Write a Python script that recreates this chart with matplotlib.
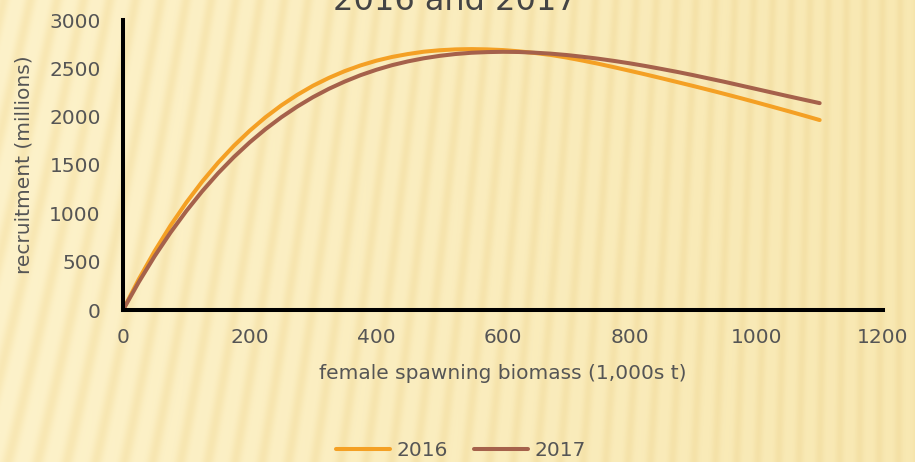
import numpy as np
import matplotlib
matplotlib.use("Agg")
import matplotlib.pyplot as plt

# ---- data ----
biomass = [0, 25, 50, 75, 100, 125, 150, 175, 200, 225, 250, 275, 300, 325,
           350, 375, 400, 425, 450, 475, 500, 525, 550, 575, 600, 625, 650,
           675, 700, 725, 750, 775, 800, 825, 850, 875, 900, 925, 950, 975,
           1000, 1025, 1050, 1075, 1100]
rec_2016 = [0, 319, 609, 873, 1112, 1328, 1523, 1698, 1854, 1994, 2117, 2225,
            2320, 2401, 2471, 2530, 2579, 2618, 2648, 2672, 2687, 2696, 2699,
            2696, 2689, 2676, 2659, 2639, 2612, 2581, 2548, 2512, 2475, 2437,
            2398, 2358, 2318, 2277, 2235, 2192, 2148, 2103, 2058, 2012, 1965]
rec_2017 = [0, 290, 557, 801, 1024, 1228, 1414, 1582, 1734, 1871, 1994, 2104,
            2202, 2288, 2363, 2429, 2485, 2533, 2572, 2604, 2629, 2648, 2661,
            2668, 2671, 2669, 2662, 2652, 2638, 2620, 2600, 2577, 2552, 2524,
            2494, 2463, 2430, 2395, 2360, 2323, 2286, 2249, 2212, 2176, 2140]
series_names = ["2016", "2017"]
x_ticks = [0, 200, 400, 600, 800, 1000, 1200]
y_ticks = [0, 500, 1000, 1500, 2000, 2500, 3000]
title_text = "2016 and 2017"
x_label = "female spawning biomass (1,000s t)"
y_label = "recruitment (millions)"

C2016 = "#F4A024"
C2017 = "#A5614B"
TXT = "#555555"

plt.rcParams['font.family'] = ['DejaVu Sans']

W, H = 915, 462
fig = plt.figure(figsize=(W / 100, H / 100), dpi=100)

# ---- striped yellow background (decoration) ----
bg = fig.add_axes([0, 0, 1, 1], zorder=-10)
xx, yy = np.meshgrid(np.arange(W, dtype=float), np.arange(H, dtype=float))
t = xx / W
left = np.array([253, 242, 202]) / 255.0
right = np.array([248, 232, 178]) / 255.0
base = left[None, None, :] * (1 - t[..., None]) + right[None, None, :] * t[..., None]
k = 0.25 * (1 - t)
period = 30 - 6 * t
phase = (xx - k * (H - yy)) / period * 2 * np.pi
stripe = 0.5 + 0.5 * np.sin(phase)
amp_l = np.array([-0.018, -0.04, -0.085])
amp_r = np.array([-0.016, -0.03, -0.05])
amp = amp_l[None, None, :] * (1 - t[..., None]) + amp_r[None, None, :] * t[..., None]
img = np.clip(base + (stripe ** 2)[..., None] * amp, 0, 1)
bg.imshow(img, aspect='auto', extent=[0, W, H, 0])
bg.set_axis_off()

# ---- main axes ----
ax = fig.add_axes([123 / W, 1 - 310 / H, (883 - 123) / W, (310 - 20) / H])
ax.patch.set_alpha(0)
ax.plot(biomass, rec_2016, color=C2016, lw=2.9, label=series_names[0],
        solid_capstyle='round', clip_on=False, zorder=3)
ax.plot(biomass, rec_2017, color=C2017, lw=2.9, label=series_names[1],
        solid_capstyle='round', clip_on=False, zorder=3)

ax.set_xlim(0, 1200)
ax.set_ylim(0, 3000)
ax.set_xticks(x_ticks)
ax.set_yticks(y_ticks)
for s in ['top', 'right']:
    ax.spines[s].set_visible(False)
for s in ['left', 'bottom']:
    ax.spines[s].set_linewidth(2.9)
    ax.spines[s].set_color('black')
    ax.spines[s].set_zorder(4)
ax.tick_params(axis='both', length=0, labelsize=14.5, labelcolor=TXT)
ax.tick_params(axis='y', pad=16)
ax.tick_params(axis='x', pad=13)
ax.set_xlabel(x_label, fontsize=14.5, color=TXT, labelpad=12)
ax.set_ylabel(y_label, fontsize=14.5, color=TXT, labelpad=11)

fig.text(455 / W, 1 - 10 / H, title_text, ha='center', va='baseline',
         fontsize=23, color="#444444")

leg = fig.legend(loc='center', bbox_to_anchor=(461 / W, 1 - 451 / H), ncol=2,
                 frameon=False, fontsize=14.5, handlelength=2.7, handletextpad=0.3,
                 columnspacing=1.3)
for txt in leg.get_texts():
    txt.set_color(TXT)
for line in leg.get_lines():
    line.set_linewidth(2.9)

fig.savefig("out.png", dpi=100)
